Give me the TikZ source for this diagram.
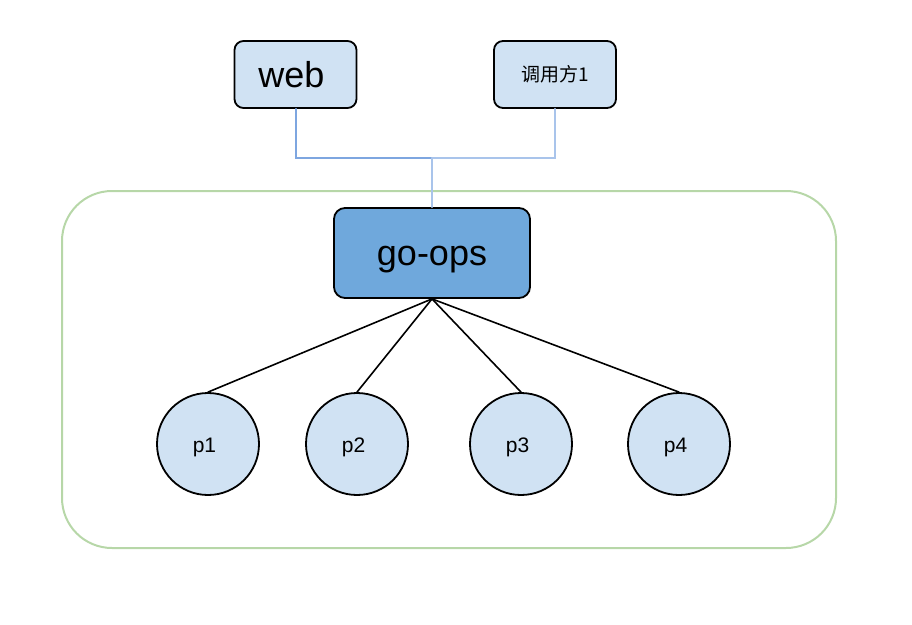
\documentclass[tikz,border=0pt]{standalone}
\usepackage{fontspec}
\setmainfont{Liberation Sans}
\newfontfamily\cjk{Noto Sans CJK SC}
\definecolor{boxfill}{HTML}{D0E2F3}
\definecolor{opsfill}{HTML}{6FA8DC}
\definecolor{linkdark}{HTML}{7EA6E0}
\definecolor{linklight}{HTML}{A9C4EB}
\definecolor{groupgreen}{HTML}{B7D7A8}
\tikzset{
  client/.style={draw, line width=1.8pt, fill=boxfill, rounded corners=9pt, minimum width=122pt, minimum height=67pt, inner sep=0pt},
  server/.style={draw, line width=1.8pt, fill=opsfill, rounded corners=11pt, minimum width=196pt, minimum height=90pt, inner sep=0pt, text height=24pt, text depth=0pt},
  worker/.style={draw, line width=1.8pt, fill=boxfill, circle, minimum size=102pt, inner sep=0pt, text height=16pt, text depth=0pt, font=\fontsize{21}{24}\selectfont},
}
\begin{document}
\begin{tikzpicture}[x=1pt,y=-1pt,line cap=round]
        \useasboundingbox (0,0) rectangle (912,624);

        % group frame
        \draw[groupgreen, line width=2pt, rounded corners=50pt] (62,191) rectangle (836,548);

        % callers
        \node[client, font=\fontsize{36}{40}\selectfont] (web) at (295.5,74.5) {\hspace*{-8pt}web};
        \node[client, font=\cjk\fontsize{19}{22}\selectfont] (caller) at (555,74.5) {调用方1};

        % the service
        \node[server, font=\fontsize{36}{40}\selectfont] (goops) at (432,253) {go-ops};

        % workers
        \foreach \name/\xc in {p1/208, p2/357, p3/521, p4/679} {
          \node[worker] (\name) at (\xc,444) {\hspace*{-7pt}\name};
          \draw[line width=1.6pt] (goops.south) -- (\name.north);
        }

        % links to the service
        \coordinate (join) at (432,158);
        \draw[linkdark, line width=2pt] (web.south) |- (join);
        \draw[linklight, line width=2pt] (caller.south) |- (join);
        \draw[linklight, line width=2pt] (join) -- (goops.north);
\end{tikzpicture}
\end{document}
